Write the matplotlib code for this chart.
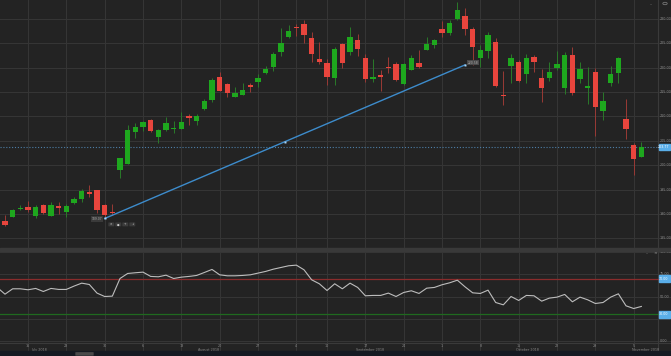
import matplotlib
matplotlib.use("Agg")
import matplotlib.pyplot as plt
from matplotlib.patches import Rectangle, FancyBboxPatch, Circle
from matplotlib.transforms import blended_transform_factory as btf
import numpy as np
import pandas as pd

# ---------------- data ----------------
days = [d for d in pd.bdate_range("2018-07-10", "2018-11-06") if d != pd.Timestamp("2018-09-03")]

opens = [191.0, 188.5, 189.4, 191.0, 191.4, 189.5, 191.8, 189.5, 191.7, 190.5,
         192.3, 193.0, 194.6, 194.9, 191.8, 190.35, 199.1, 200.3, 206.8, 207.9,
         209.2, 205.8, 207.2, 207.4, 207.5, 210.1, 209.1, 211.6, 213.4, 218.0,
         216.6, 213.9, 214.5, 216.5, 217.1, 219.0, 220.1, 223.2, 226.4, 228.4,
         229.0, 226.2, 221.7, 220.9, 217.8, 224.9, 223.3, 225.7, 222.1, 217.7,
         218.5, 220.1, 220.7, 216.6, 219.6, 221.0, 223.6, 224.7, 227.9, 227.1,
         230.0, 230.7, 227.9, 222.1, 223.5, 225.3, 214.5, 220.3, 221.1, 218.8,
         222.3, 217.8, 217.9, 219.9, 215.8, 222.6, 217.6, 215.8, 219.2, 211.1,
         216.8, 218.9, 209.5, 204.2, 201.7]
highs = [191.3, 189.7, 191.1, 191.8, 192.6, 191.8, 192.0, 192.5, 192.4, 192.1,
         193.5, 195.2, 195.9, 195.0, 192.0, 192.1, 201.5, 208.2, 208.7, 209.1,
         209.5, 207.5, 209.8, 209.1, 211.0, 210.5, 210.6, 213.6, 217.8, 219.2,
         216.9, 216.1, 216.9, 216.8, 218.7, 220.3, 223.3, 228.1, 228.8, 228.9,
         229.7, 227.3, 225.3, 221.7, 224.2, 225.0, 228.3, 226.9, 222.9, 221.7,
         219.5, 222.2, 221.1, 220.9, 222.7, 223.6, 226.4, 225.8, 229.5, 229.8,
         233.4, 232.2, 228.3, 224.7, 227.3, 226.2, 219.4, 222.8, 221.6, 222.9,
         222.6, 219.7, 221.2, 223.4, 223.3, 224.2, 221.2, 220.2, 219.9, 215.1,
         220.3, 222.3, 213.6, 204.5, 204.8]
lows = [190.4, 187.6, 189.3, 190.9, 190.3, 189.2, 189.9, 189.5, 190.0, 189.4,
        192.1, 192.5, 193.5, 190.1, 189.3, 189.7, 197.3, 200.3, 205.5, 207.0,
        206.9, 204.5, 207.1, 206.6, 207.5, 208.2, 208.2, 211.4, 213.0, 215.3,
        214.0, 213.9, 214.5, 215.1, 216.1, 218.8, 219.4, 222.4, 226.0, 226.5,
        225.0, 221.2, 220.8, 216.4, 216.4, 219.9, 222.6, 222.4, 217.1, 217.1,
        215.3, 219.0, 217.3, 216.4, 219.5, 219.9, 223.6, 224.0, 226.4, 226.8,
        229.8, 226.8, 220.6, 220.2, 222.1, 216.1, 212.3, 216.8, 217.1, 216.8,
        219.2, 213.0, 217.2, 219.6, 214.6, 214.4, 216.8, 212.6, 206.0, 209.3,
        216.3, 216.8, 205.3, 198.0, 201.6]
closes = [190.7, 187.7, 190.9, 191.2, 190.8, 191.4, 190.2, 191.8, 191.3, 191.6,
          193.0, 194.7, 194.0, 190.9, 189.7, 190.1, 201.4, 207.3, 207.9, 208.9,
          207.0, 207.2, 208.7, 207.5, 208.8, 209.7, 210.1, 213.2, 217.5, 215.3,
          214.9, 214.9, 215.4, 216.1, 217.8, 219.7, 222.9, 225.0, 227.5, 228.2,
          226.7, 222.9, 221.2, 218.2, 223.8, 220.9, 226.4, 223.8, 217.7, 218.2,
          218.2, 219.9, 217.5, 220.7, 222.1, 220.2, 224.9, 225.6, 227.1, 229.1,
          231.8, 227.9, 224.2, 223.6, 226.7, 216.2, 214.2, 222.0, 217.3, 222.1,
          221.1, 215.9, 219.2, 220.7, 222.6, 214.9, 219.7, 216.2, 212.0, 213.2,
          218.7, 222.1, 207.4, 201.3, 203.77]
rsi = [60.0, 52.6, 58.6, 58.6, 57.5, 59.0, 55.6, 59.0, 57.9, 57.9,
       61.6, 64.9, 63.4, 53.8, 50.0, 50.4, 70.1, 75.7, 76.5, 77.2,
       72.4, 72.0, 73.8, 70.1, 71.6, 72.4, 73.5, 76.8, 80.2, 74.2,
       73.1, 73.1, 73.5, 74.2, 76.1, 78.0, 80.5, 82.4, 84.3, 85.0,
       79.8, 68.6, 64.2, 56.7, 64.2, 58.6, 64.9, 60.1, 50.8, 51.2,
       51.2, 53.8, 50.0, 54.5, 56.4, 53.4, 59.3, 60.1, 63.1, 65.3,
       68.2, 60.8, 54.1, 53.4, 57.1, 43.3, 40.7, 50.0, 45.6, 51.2,
       50.8, 44.8, 48.2, 49.3, 52.3, 44.1, 49.3, 46.3, 42.2, 43.3,
       49.3, 53.0, 39.6, 36.6, 38.9]

price_ticks = [185, 190, 195, 200, 205, 210, 215, 220, 225, 230]
rsi_ticks = [0, 25, 50, 75, 100]
rsi_upper, rsi_lower = 70, 30
trend_start, trend_end = ("2018-07-30", 189.07), ("2018-10-04", 220.58)
month_labels = ["July 2018", "August 2018", "September 2018", "October 2018", "November 2018"]
month_pos = [5.4, 27.5, 48.6, 69.2, 84.5]

# ---------------- styling ----------------
W, H = 671, 356
BG = "#232323"
GRID = "#353535"
TXT = "#8a8a8a"
UP, DN = "#1ea71e", "#e8453d"
UPW, DNW = "#2a7a2a", "#9a3a35"
BLUE = "#5aaee8"

fig = plt.figure(figsize=(W / 100, H / 100), dpi=100, facecolor=BG)
n = len(days)
x = np.arange(n)
pxd = 7.667  # pixels per trading day
xl = (1 - 5 / pxd, 1 + 666 / pxd)
xr_edge = 1 + 653 / pxd

def fig_rect(x0, y0, x1, y1, **kw):
    fig.patches.append(Rectangle((x0 / W, 1 - y1 / H), (x1 - x0) / W, (y1 - y0) / H,
                                 transform=fig.transFigure, **kw))

# ---------------- price pane ----------------
ax = fig.add_axes([0, 1 - 248 / H, 1, 248 / H])
ax.set_facecolor(BG)
ax.set_xlim(*xl)
ax.set_ylim(230 - 229 / 4.874, 230 + 19 / 4.874)
for s in ax.spines.values():
    s.set_visible(False)
ax.set_xticks([]); ax.set_yticks([])

week_ticks = [i for i in range(1, n) if days[i].weekday() < days[i - 1].weekday()]
for t in price_ticks:
    ax.axhline(t, color=GRID, lw=0.8, zorder=0)
for i in week_ticks:
    ax.axvline(i, color=GRID, lw=0.8, zorder=0)
ax.axvline(xr_edge, color="#3a3a3a", lw=0.8, zorder=0)

o, h, l, c = map(np.array, (opens, highs, lows, closes))
up = c >= o
ax.vlines(x, l, h, colors=np.where(up, UPW, DNW), lw=0.7, zorder=2)
bot = np.minimum(o, c)
hgt = np.maximum(np.abs(c - o), 0.15)
ax.bar(x, hgt, bottom=bot, width=0.66, color=np.where(up, UP, DN), lw=0, zorder=3)

# current price line
last = closes[-1]
ax.plot([xl[0], xr_edge], [last, last], color="#4d7ea6", lw=0.8, ls=(0, (1, 1.6)), zorder=1)

tr = btf(ax.transAxes, ax.transData)
for t in price_ticks:
    ax.text(660 / W, t, f"{t:.2f}", transform=tr, fontsize=2.4, color=TXT, va="center", ha="left")
ax.add_patch(Rectangle((658.5 / W, last - 3.2 / 4.874), 11 / W, 6.4 / 4.874, transform=tr,
                       color=BLUE, zorder=5))
ax.text(664 / W, last, f"{last:.2f}", transform=tr, fontsize=2.3, color="#ffffff",
        va="center", ha="center", zorder=6)

# trendline
didx = {d.strftime("%Y-%m-%d"): i for i, d in enumerate(days)}
x0t, x1t = didx[trend_start[0]], didx[trend_end[0]]
y0t, y1t = trend_start[1], trend_end[1]
ax.plot([x0t, x1t], [y0t, y1t], color="#3d8ccc", lw=1.0, zorder=4)
ax.plot([x0t, (x0t + x1t) / 2, x1t], [y0t, (y0t + y1t) / 2, y1t], ls="none", marker="s",
        ms=1.6, mfc="#a8d2f2", mec="none", zorder=5)
ax.text(x0t - 0.3, y0t - 0.1, f"{y0t:.2f}", fontsize=2.2, color="#aaaaaa", ha="right", va="center",
        bbox=dict(boxstyle="square,pad=0.25", fc="#3a3a3a", ec="none"), zorder=6)
ax.text(x1t + 0.35, y1t + 0.45, f"{y1t:.2f}", fontsize=2.2, color="#aaaaaa", ha="left", va="center",
        bbox=dict(boxstyle="square,pad=0.25", fc="#4a4a4a", ec="none"), zorder=6)
# small toolbar below the anchor
for k, sym in enumerate(["\u00d7", "\u25cf", "+", "\u2193"]):
    xb = 109 + k * 7
    fig.patches.append(FancyBboxPatch((xb / W, 1 - 226 / H), 4.6 / W, 3.2 / H,
                                      boxstyle="round,pad=0.001", transform=fig.transFigure,
                                      fc="#3c3c3c", ec="none", zorder=5))
    fig.text((xb + 2.3) / W, 1 - 224.4 / H, sym, fontsize=2.2, color="#cfcfcf",
             ha="center", va="center", zorder=6)

# top right icons
fig.text(651 / W, 1 - 4 / H, "\u2013", fontsize=3, color="#9a9a9a", ha="center", va="center")
fig.patches.append(Circle((665 / W, 1 - 3.5 / H), 2.2 / W, transform=fig.transFigure,
                          fc="none", ec="#777777", lw=0.6))

# pane separator
fig_rect(0, 248, W, 250.5, color="#393939", zorder=3)

# ---------------- RSI pane ----------------
ppu = 0.896
ax2 = fig.add_axes([0, 1 - 351 / H, 1, (351 - 250.5) / H])
ax2.set_facecolor(BG)
ax2.set_xlim(*xl)
ax2.set_ylim(-(351 - 341.3) / ppu, 100 + (251.7 - 250.5) / ppu)
for s in ax2.spines.values():
    s.set_visible(False)
ax2.set_xticks([]); ax2.set_yticks([])
for t in rsi_ticks:
    ax2.axhline(t, color=GRID, lw=0.8, zorder=0)
for i in week_ticks:
    ax2.axvline(i, color=GRID, lw=0.8, zorder=0)
ax2.axvline(xr_edge, color="#3a3a3a", lw=0.8, zorder=0)
ax2.axhline(-(343 - 341.3) / ppu, color="#3a3a3a", lw=0.8, zorder=0)
ax2.plot([xl[0], xr_edge], [rsi_upper] * 2, color="#8a2c2c", lw=0.9, zorder=1)
ax2.plot([xl[0], xr_edge], [rsi_lower] * 2, color="#1f6a1f", lw=0.9, zorder=1)
ax2.plot(x, rsi, color="#bdbdbd", lw=0.8, zorder=3)

tr2 = btf(ax2.transAxes, ax2.transData)
for t in rsi_ticks:
    ax2.text(660 / W, t + (2.2 if t in (25,) else 0), f"{t:.2f}", transform=tr2, fontsize=2.4,
             color=TXT, va="center", ha="left")
for lv in (rsi_upper, rsi_lower):
    ax2.add_patch(Rectangle((658.5 / W, lv - 3.2 / ppu), 11 / W, 6.4 / ppu, transform=tr2,
                            color=BLUE, zorder=5))
    ax2.text(664 / W, lv, f"{lv:.2f}", transform=tr2, fontsize=2.3, color="#ffffff",
             va="center", ha="center", zorder=6)
fig.text(647 / W, 1 - 253 / H, "\u2013", fontsize=3, color="#9a9a9a", ha="center", va="center")
fig.text(655 / W, 1 - 253 / H, "\u00d7", fontsize=3.2, color="#9a9a9a", ha="center", va="center")

# x axis labels
trx = btf(ax2.transData, ax2.transData)
for i in week_ticks:
    ax2.text(i, -(346 - 341.3) / ppu, str(days[i].day), fontsize=2.4, color=TXT,
             ha="center", va="center")
for lab, p in zip(month_labels, month_pos):
    ax2.text(p, -(350 - 341.3) / ppu, lab, fontsize=2.4, color=TXT, ha="center", va="center")

# bottom scrollbar strip
fig_rect(0, 351.3, W, H, color="#151a22", zorder=4)
fig.patches.append(FancyBboxPatch((76 / W, 1 - 355.3 / H), 17 / W, 2.8 / H,
                                  boxstyle="round,pad=0.001", transform=fig.transFigure,
                                  fc="#4a4a4a", ec="none", zorder=5))

fig.savefig("out.png", dpi=100, facecolor=BG)
